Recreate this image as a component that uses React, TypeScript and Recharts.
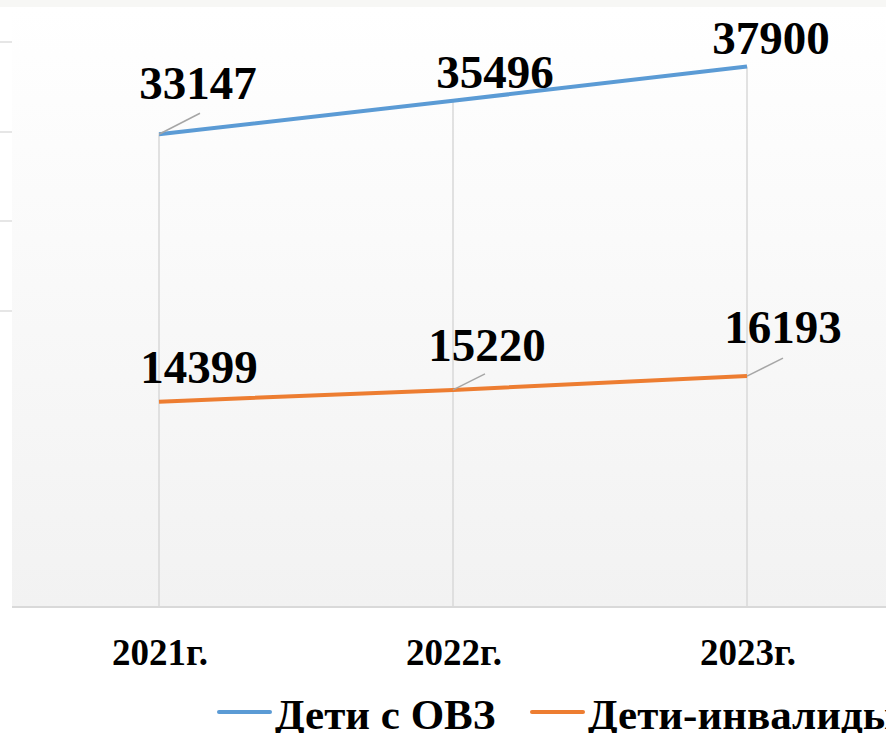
import { LineChart, Line, XAxis, YAxis, CartesianGrid, ReferenceLine } from "recharts";

const YEARS = ["2021г.", "2022г.", "2023г."];
const OVZ = [33147, 35496, 37900];
const DISABLED = [14399, 15220, 16193];
const Y_MAX = 42000;

const BLUE = "#5b9bd5";
const ORANGE = "#ed7d31";
const FONT = '"Liberation Serif", "Times New Roman", serif';

// label offsets relative to the point: text centre (dx, dy) and optional leader end (lx, ly)
const OVZ_LABELS = [
  { dx: 39, dy: -35, lx: 41, ly: -21 },
  { dx: 42, dy: -13 },
  { dx: 24, dy: -12 },
];
const DISABLED_LABELS = [
  { dx: 40, dy: -19 },
  { dx: 34, dy: -29, lx: 32, ly: -16 },
  { dx: 36, dy: -33, lx: 36, ly: -18 },
];

const data = YEARS.map((year, i) => ({ year, ovz: OVZ[i], disabled: DISABLED[i] }));

type Offset = { dx: number; dy: number; lx?: number; ly?: number };

function makeLabel(offsets: Offset[]) {
  // eslint-disable-next-line @typescript-eslint/no-explicit-any
  return function PointLabel(props: any) {
    const { x, y, value, index } = props;
    const o = offsets[index] ?? { dx: 0, dy: -12 };
    return (
      <g>
        {o.lx !== undefined && (
          <line x1={x} y1={y} x2={x + o.lx} y2={y + (o.ly ?? 0)} stroke="#a6a6a6" strokeWidth={1.5} />
        )}
        <text
          x={x + o.dx}
          y={y + o.dy}
          textAnchor="middle"
          fontFamily={FONT}
          fontWeight={700}
          fontSize={47}
          fill="#000"
        >
          {value}
        </text>
      </g>
    );
  };
}

// eslint-disable-next-line @typescript-eslint/no-explicit-any
function YearTick({ x, y, payload }: any) {
  return (
    <text x={x + 1} y={y + 50} textAnchor="middle" fontFamily={FONT} fontWeight={700} fontSize={37} fill="#000">
      {payload.value}
    </text>
  );
}

function LegendItem({ color, label, lineX, textX }: { color: string; label: string; lineX: number; textX: number }) {
  return (
    <>
      <div
        style={{
          position: "absolute", left: lineX, top: 710, width: 55, height: 4,
          borderRadius: 2, background: color,
        }}
      />
      <div
        style={{
          position: "absolute", left: textX, top: 690, fontFamily: FONT, fontWeight: 700,
          fontSize: 43, lineHeight: "50px", whiteSpace: "nowrap", color: "#000",
        }}
      >
        {label}
      </div>
    </>
  );
}

export default function App() {
  return (
    <div
      style={{
        position: "absolute", left: 0, top: 0, width: 886, height: 733,
        overflow: "hidden", background: "#fff",
      }}
    >
      <div style={{ position: "absolute", left: 0, top: 0, width: 886, height: 7, background: "#f7f7f5" }} />
      {[41, 131, 220, 310].map((t) => (
        <div key={t} style={{ position: "absolute", left: 0, top: t, width: 16, height: 2, background: "#e6e6e6" }} />
      ))}
      <div style={{ position: "absolute", left: 0, top: 0 }}>
        <LineChart width={900} height={733} data={data} margin={{ top: 8, right: 6, left: 12, bottom: 96 }}>
          <defs>
            <linearGradient id="plotBg" x1="0" y1="0" x2="0" y2="1">
              <stop offset="0%" stopColor="#ffffff" />
              <stop offset="100%" stopColor="#f2f2f2" />
            </linearGradient>
          </defs>
          <CartesianGrid horizontal={false} vertical={false} fill="url(#plotBg)" />
          <XAxis
            dataKey="year"
            padding={{ left: 147, right: 147 }}
            axisLine={{ stroke: "#d9d9d9", strokeWidth: 2 }}
            tickLine={false}
            tick={<YearTick />}
            interval={0}
          />
          <YAxis hide domain={[0, Y_MAX]} />
          {YEARS.map((year, i) => (
            <ReferenceLine
              key={year}
              segment={[{ x: year, y: 0 }, { x: year, y: OVZ[i] }]}
              stroke="#d9d9d9"
              strokeWidth={1.5}
            />
          ))}
          <Line
            dataKey="ovz"
            stroke={BLUE}
            strokeWidth={4}
            dot={false}
            isAnimationActive={false}
            label={makeLabel(OVZ_LABELS)}
          />
          <Line
            dataKey="disabled"
            stroke={ORANGE}
            strokeWidth={4}
            dot={false}
            isAnimationActive={false}
            label={makeLabel(DISABLED_LABELS)}
          />
        </LineChart>
      </div>
      <LegendItem color={BLUE} label="Дети с ОВЗ" lineX={217} textX={275} />
      <LegendItem color={ORANGE} label="Дети-инвалиды" lineX={530} textX={588} />
    </div>
  );
}
